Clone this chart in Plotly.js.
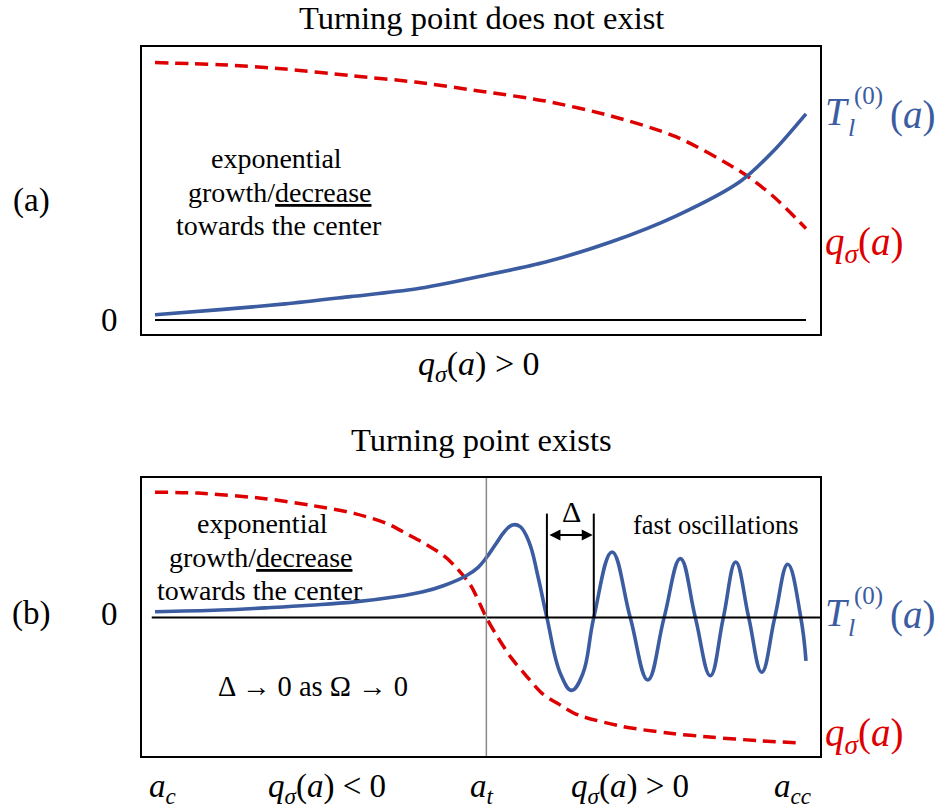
<!DOCTYPE html>
<html>
<head>
<meta charset="utf-8">
<script src="https://cdn.plot.ly/plotly-3.0.1.min.js"></script>
<style>html,body{margin:0;padding:0;background:#fff;}#chart{width:943px;height:808px;}</style>
</head>
<body>
<div id="chart"></div>
<script>
// Panel (a): turning point does not exist
const xA = [0, 1, 2, 3, 4, 5, 6, 7, 8, 9, 9.5, 10];
const qA = [0.99, 0.982, 0.965, 0.94, 0.915, 0.88, 0.842, 0.785, 0.705, 0.57, 0.475, 0.352];
const tA = [0.02, 0.04, 0.062, 0.09, 0.119, 0.168, 0.223, 0.30, 0.40, 0.535, 0.65, 0.793];

// Panel (b): turning point exists
const xBq = [0, 0.66, 1.69, 2.38, 3.07, 3.55, 3.89, 4.17, 4.44, 4.65, 4.85, 5.09, 5.27, 5.47, 5.68, 5.95, 6.23, 6.50, 7.19, 7.88, 8.57, 9.25, 9.90];
const qB  = [0.965, 0.958, 0.915, 0.865, 0.80, 0.726, 0.638, 0.562, 0.474, 0.373, 0.247, 0.0, -0.156, -0.308, -0.434, -0.585, -0.674, -0.749, -0.838, -0.888, -0.921, -0.946, -0.964];
const xBt = [0, 1.0, 1.69, 2.38, 3.07, 3.75, 4.10, 4.44, 4.78, 4.96, 5.09, 5.23, 5.37, 5.49, 5.61, 5.75, 5.88, 6.02, 6.23, 6.40, 6.57, 6.74, 7.02, 7.30, 7.57, 7.82, 8.07, 8.30, 8.53, 8.73, 8.92, 9.12, 9.32, 9.52, 9.72, 9.92, 10.0];
const tB  = [0.045, 0.058, 0.075, 0.095, 0.121, 0.164, 0.196, 0.247, 0.322, 0.385, 0.461, 0.562, 0.663, 0.713, 0.70, 0.575, 0.322, 0.0, -0.434, -0.56, -0.434, 0.0, 0.505, 0.0, -0.48, 0.0, 0.454, 0.0, -0.447, 0.0, 0.428, 0.0, -0.42, 0.0, 0.41, 0.0, -0.333];

// Markers on the a-axis
const aT = 5.09;             // turning point a_t
const deltaX = [6.02, 6.74]; // consecutive zeros spanning Δ
const bottomLabels = ["<i>a</i><sub><i>c</i></sub>", "<i>q</i><sub><i>σ</i></sub>(<i>a</i>) &lt; 0", "<i>a</i><sub><i>t</i></sub>", "<i>q</i><sub><i>σ</i></sub>(<i>a</i>) &gt; 0", "<i>a</i><sub><i>cc</i></sub>"];
const bottomLabelX = [0.12, 2.64, 5.02, 7.3, 9.8];

const BLUE = '#3b5ca0', RED = '#de0000';
const FONT = 'Liberation Serif, serif';
const XR = [-0.2, 10.215];
const YRA = [-0.0538, 1.05];
const YRB = [-1.0646, 1.0738];

const traces = [
  {x: xA, y: qA, xaxis: 'x', yaxis: 'y', mode: 'lines', line: {color: RED, width: 3.5, dash: '13px,7px', shape: 'spline', smoothing: 0.8}, hoverinfo: 'skip'},
  {x: xA, y: tA, xaxis: 'x', yaxis: 'y', mode: 'lines', line: {color: BLUE, width: 3.6, shape: 'spline', smoothing: 0.8}, hoverinfo: 'skip'},
  {x: xBq, y: qB, xaxis: 'x2', yaxis: 'y2', mode: 'lines', line: {color: RED, width: 3.5, dash: '13px,7px', shape: 'spline', smoothing: 0.8}, hoverinfo: 'skip'},
  {x: xBt, y: tB, xaxis: 'x2', yaxis: 'y2', mode: 'lines', line: {color: BLUE, width: 3.6, shape: 'spline', smoothing: 1.2}, hoverinfo: 'skip'}
];

const axBase = {showgrid: false, zeroline: false, showticklabels: false, ticks: '', showline: true, mirror: true, linecolor: '#000', linewidth: 2, fixedrange: true};

// paper coordinate helpers (page px -> paper)
const px = p => (p - 142) / 678;
const py = p => (756 - p) / 709;

const ann = [];
function t(text, x, y, size, opts, color) {
  ann.push(Object.assign({text: text, x: px(x), y: py(y), xref: 'paper', yref: 'paper', showarrow: false, xanchor: 'center', yanchor: 'middle', font: {family: FONT, size: size, color: color || '#000'}}, opts || {}));
}
const L = {xanchor: 'left'};
t('Turning point does not exist', 481, 18, 32.5);
t('Turning point exists', 481, 440, 32.5);
t('(a)', 31, 200, 33);
t('(b)', 31, 613, 33);
t('0', 109, 320, 33);
t('0', 109, 614, 33);
t('<i>q</i><sub><i>σ</i></sub>(<i>a</i>) &gt; 0', 479, 366, 34);
// right-hand labels panel a
t('<i>T</i>', 823, 112, 39, L, BLUE);
t('(0)', 852, 96, 25, L, BLUE);
t('<i>l</i>', 846, 127, 26, L, BLUE);
t('(<i>a</i>)', 888, 115, 39, L, BLUE);
t('<i>q</i><sub><i>σ</i></sub>(<i>a</i>)', 823, 244, 39, L, RED);
// right-hand labels panel b
t('<i>T</i>', 823, 612, 39, L, BLUE);
t('(0)', 852, 596, 25, L, BLUE);
t('<i>l</i>', 846, 627, 26, L, BLUE);
t('(<i>a</i>)', 888, 615, 39, L, BLUE);
t('<i>q</i><sub><i>σ</i></sub>(<i>a</i>)', 823, 735, 39, L, RED);
// panel texts
t('exponential', 276, 158, 28);
t('growth/<u>decrease</u>', 279, 192, 28);
t('towards the center', 279, 225, 28);
t('exponential', 262, 523, 28);
t('growth/<u>decrease</u>', 260, 557, 28);
t('towards the center', 260, 590, 28);
t('Δ → 0 as Ω → 0', 313, 686, 28.5);
t('fast oscillations', 716, 525, 26.5);
t('Δ', 571, 511, 30);
// bottom labels placed on the shared a-axis
bottomLabels.forEach((s, i) => {
  ann.push({text: s, x: bottomLabelX[i], xref: 'x2', y: py(788), yref: 'paper', showarrow: false, xanchor: 'center', yanchor: 'middle', font: {family: FONT, size: 33, color: '#000'}});
});
// Delta double arrow
ann.push({text: '', x: deltaX[1], y: 0.635, xref: 'x2', yref: 'y2', ax: deltaX[0], ay: 0.635, axref: 'x2', ayref: 'y2', showarrow: true, arrowhead: 2, startarrowhead: 2, arrowside: 'end+start', arrowwidth: 2, arrowsize: 1.1, startarrowsize: 1.1, arrowcolor: '#000', standoff: 1, startstandoff: 1});

const shapes = [
  {type: 'line', xref: 'x', yref: 'y', x0: 0, x1: 10, y0: 0, y1: 0, line: {color: '#000', width: 2}},
  {type: 'line', xref: 'x2', yref: 'y2', x0: -0.05, x1: XR[1], y0: 0, y1: 0, line: {color: '#000', width: 2}},
  {type: 'line', xref: 'x2', yref: 'y2 domain', x0: aT, x1: aT, y0: 0, y1: 1, line: {color: '#888', width: 1.5}},
  {type: 'line', xref: 'x2', yref: 'y2', x0: deltaX[0], x1: deltaX[0], y0: 0, y1: 0.80, line: {color: '#000', width: 2}},
  {type: 'line', xref: 'x2', yref: 'y2', x0: deltaX[1], x1: deltaX[1], y0: 0, y1: 0.80, line: {color: '#000', width: 2}}
];

const layout = {
  width: 943, height: 808,
  margin: {l: 142, r: 123, t: 47, b: 52, pad: 0},
  paper_bgcolor: '#fff', plot_bgcolor: '#fff',
  showlegend: false,
  xaxis: Object.assign({}, axBase, {range: XR, anchor: 'y', domain: [0, 1]}),
  yaxis: Object.assign({}, axBase, {range: YRA, anchor: 'x', domain: [0.5952, 1]}),
  xaxis2: Object.assign({}, axBase, {range: XR, anchor: 'y2', domain: [0, 1]}),
  yaxis2: Object.assign({}, axBase, {range: YRB, anchor: 'x2', domain: [0, 0.3921]}),
  annotations: ann,
  shapes: shapes
};

Plotly.newPlot('chart', traces, layout, {staticPlot: true, displayModeBar: false});
</script>
</body>
</html>
